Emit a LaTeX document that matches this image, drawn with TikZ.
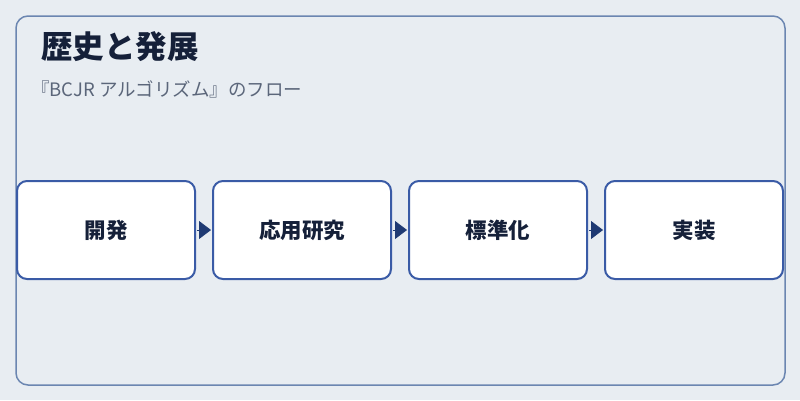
\documentclass[tikz,border=0pt]{standalone}
\usepackage{fontspec}
\setmainfont{Noto Sans CJK JP}
\usetikzlibrary{positioning,arrows.meta}
\definecolor{pagebg}{HTML}{E8EDF2}
\definecolor{framecol}{HTML}{6B86B1}
\definecolor{boxcol}{HTML}{3A5BA6}
\definecolor{tipcol}{HTML}{1F3A73}
\definecolor{titlecol}{HTML}{152039}
\definecolor{subcol}{HTML}{5B667A}

\begin{document}
\begin{tikzpicture}[x=1pt,y=-1pt]
  \tikzset{step box/.style = {draw=boxcol, line width=2pt, fill=white, rounded corners=10pt,
      minimum width=178pt, minimum height=98pt, inner sep=0pt, outer sep=0pt,
      text=titlecol, font=\fontsize{21.5pt}{24pt}\selectfont\bfseries},
    flow arrow/.style = {draw=tipcol, line width=0.8pt,
      -{Triangle[length=12pt,width=18pt,fill=tipcol]}}}
  \fill[pagebg] (0,0) rectangle (800,400);
  \useasboundingbox (0,0) rectangle (800,400);
  \draw[framecol, line width=1.5pt, rounded corners=12pt] (16,16) rectangle (785,385);
  \node[anchor=west, inner sep=0pt, text=titlecol, font=\fontsize{31.5pt}{34pt}\selectfont\bfseries] (title) at (41,47) {歴史と発展};
  \node[anchor=west, inner sep=0pt, text=subcol, font=\fontsize{18.5pt}{20pt}\selectfont] (subtitle) at (31,89) {『BCJR アルゴリズム』のフロー};
  \node[step box] (dev) at (106,230) {開発};
  \node[step box, right=18pt of dev] (app) {応用研究};
  \node[step box, right=18pt of app] (std) {標準化};
  \node[step box, right=18pt of std] (impl) {実装};
  \draw[flow arrow, shorten <=2pt, shorten >=2pt] (dev) -- (app);
  \draw[flow arrow, shorten <=2pt, shorten >=2pt] (app) -- (std);
  \draw[flow arrow, shorten <=2pt, shorten >=2pt] (std) -- (impl);
\end{tikzpicture}
\end{document}
